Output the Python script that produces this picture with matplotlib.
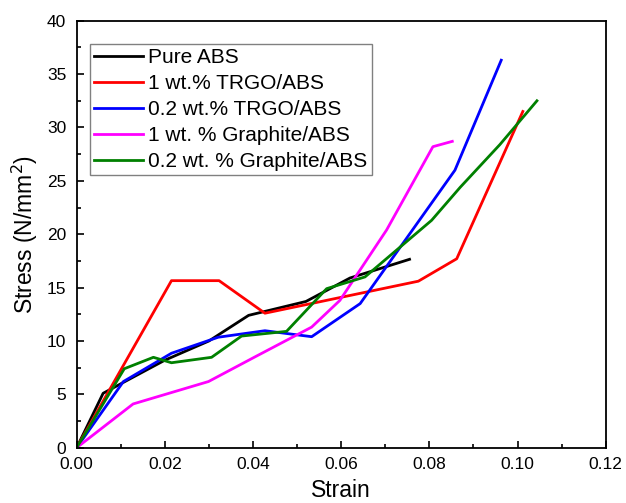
import matplotlib
matplotlib.use("Agg")
import matplotlib.pyplot as plt
from matplotlib.ticker import MultipleLocator

plt.rcParams['font.family'] = ['Liberation Sans', 'DejaVu Sans']

# strain / stress values
pure_x = [0, 0.006, 0.0105, 0.02, 0.03, 0.039, 0.052, 0.062, 0.0755]
pure_y = [0, 5.1, 6.1, 8.2, 10.0, 12.4, 13.7, 15.9, 17.65]

trgo1_x = [0, 0.0215, 0.0323, 0.0427, 0.0775, 0.0862, 0.1012]
trgo1_y = [0, 15.65, 15.65, 12.6, 15.6, 17.7, 31.5]

trgo02_x = [0, 0.0106, 0.0215, 0.0321, 0.0427, 0.0533, 0.0643, 0.0858, 0.0963]
trgo02_y = [0, 6.2, 8.85, 10.35, 10.96, 10.4, 13.5, 26.0, 36.3]

gr1_x = [0, 0.0128, 0.0299, 0.0404, 0.0533, 0.0597, 0.0703, 0.0808, 0.0852]
gr1_y = [0, 4.1, 6.2, 8.5, 11.3, 13.8, 20.4, 28.2, 28.7]

gr02_x = [0, 0.0108, 0.0174, 0.0215, 0.0306, 0.0374, 0.0476, 0.0567, 0.0654,
          0.0805, 0.087, 0.096, 0.1044]
gr02_y = [0, 7.4, 8.47, 7.96, 8.47, 10.46, 10.9, 14.9, 16.0,
          21.3, 24.4, 28.4, 32.5]

labels = ["Pure ABS", "1 wt.% TRGO/ABS", "0.2 wt.% TRGO/ABS",
          "1 wt. % Graphite/ABS", "0.2 wt. % Graphite/ABS"]
colors = ["black", "#ff0000", "#0000ff", "#ff00ff", "#008000"]

fig = plt.figure(figsize=(6.26, 5.03), dpi=100)
ax = fig.add_axes([0.1225, 0.1099, 0.8451, 0.8489])

series = [(pure_x, pure_y), (trgo1_x, trgo1_y), (trgo02_x, trgo02_y),
          (gr1_x, gr1_y), (gr02_x, gr02_y)]
for (xs, ys), lab, c in zip(series, labels, colors):
    ax.plot(xs, ys, color=c, lw=2.0, label=lab)

ax.set_xlim(0, 0.12)
ax.set_ylim(0, 40)
ax.xaxis.set_major_locator(MultipleLocator(0.02))
ax.xaxis.set_minor_locator(MultipleLocator(0.01))
ax.yaxis.set_major_locator(MultipleLocator(5))
ax.yaxis.set_minor_locator(MultipleLocator(2.5))
ax.xaxis.set_major_formatter(matplotlib.ticker.FormatStrFormatter('%.2f'))
ax.tick_params(which='both', direction='in', labelsize=12.5, width=1.2)
ax.tick_params(which='major', length=5)
ax.tick_params(which='minor', length=3)
ax.tick_params(axis='x', pad=7)
ax.tick_params(axis='y', pad=7.5)
for sp in ax.spines.values():
    sp.set_linewidth(1.3)

ax.set_xlabel("Strain", fontsize=16.5, labelpad=5)
ax.set_ylabel("Stress (N/mm$^2$)", fontsize=16.5, labelpad=5)

leg = ax.legend(loc='upper left', bbox_to_anchor=(0.025, 0.945),
                borderaxespad=0, fontsize=15, fancybox=False,
                edgecolor='#808080', handlelength=2.35, handletextpad=0.25,
                labelspacing=0.33, borderpad=0.2, framealpha=1)
leg.get_frame().set_linewidth(1.0)

fig.savefig("out.png", dpi=100)
